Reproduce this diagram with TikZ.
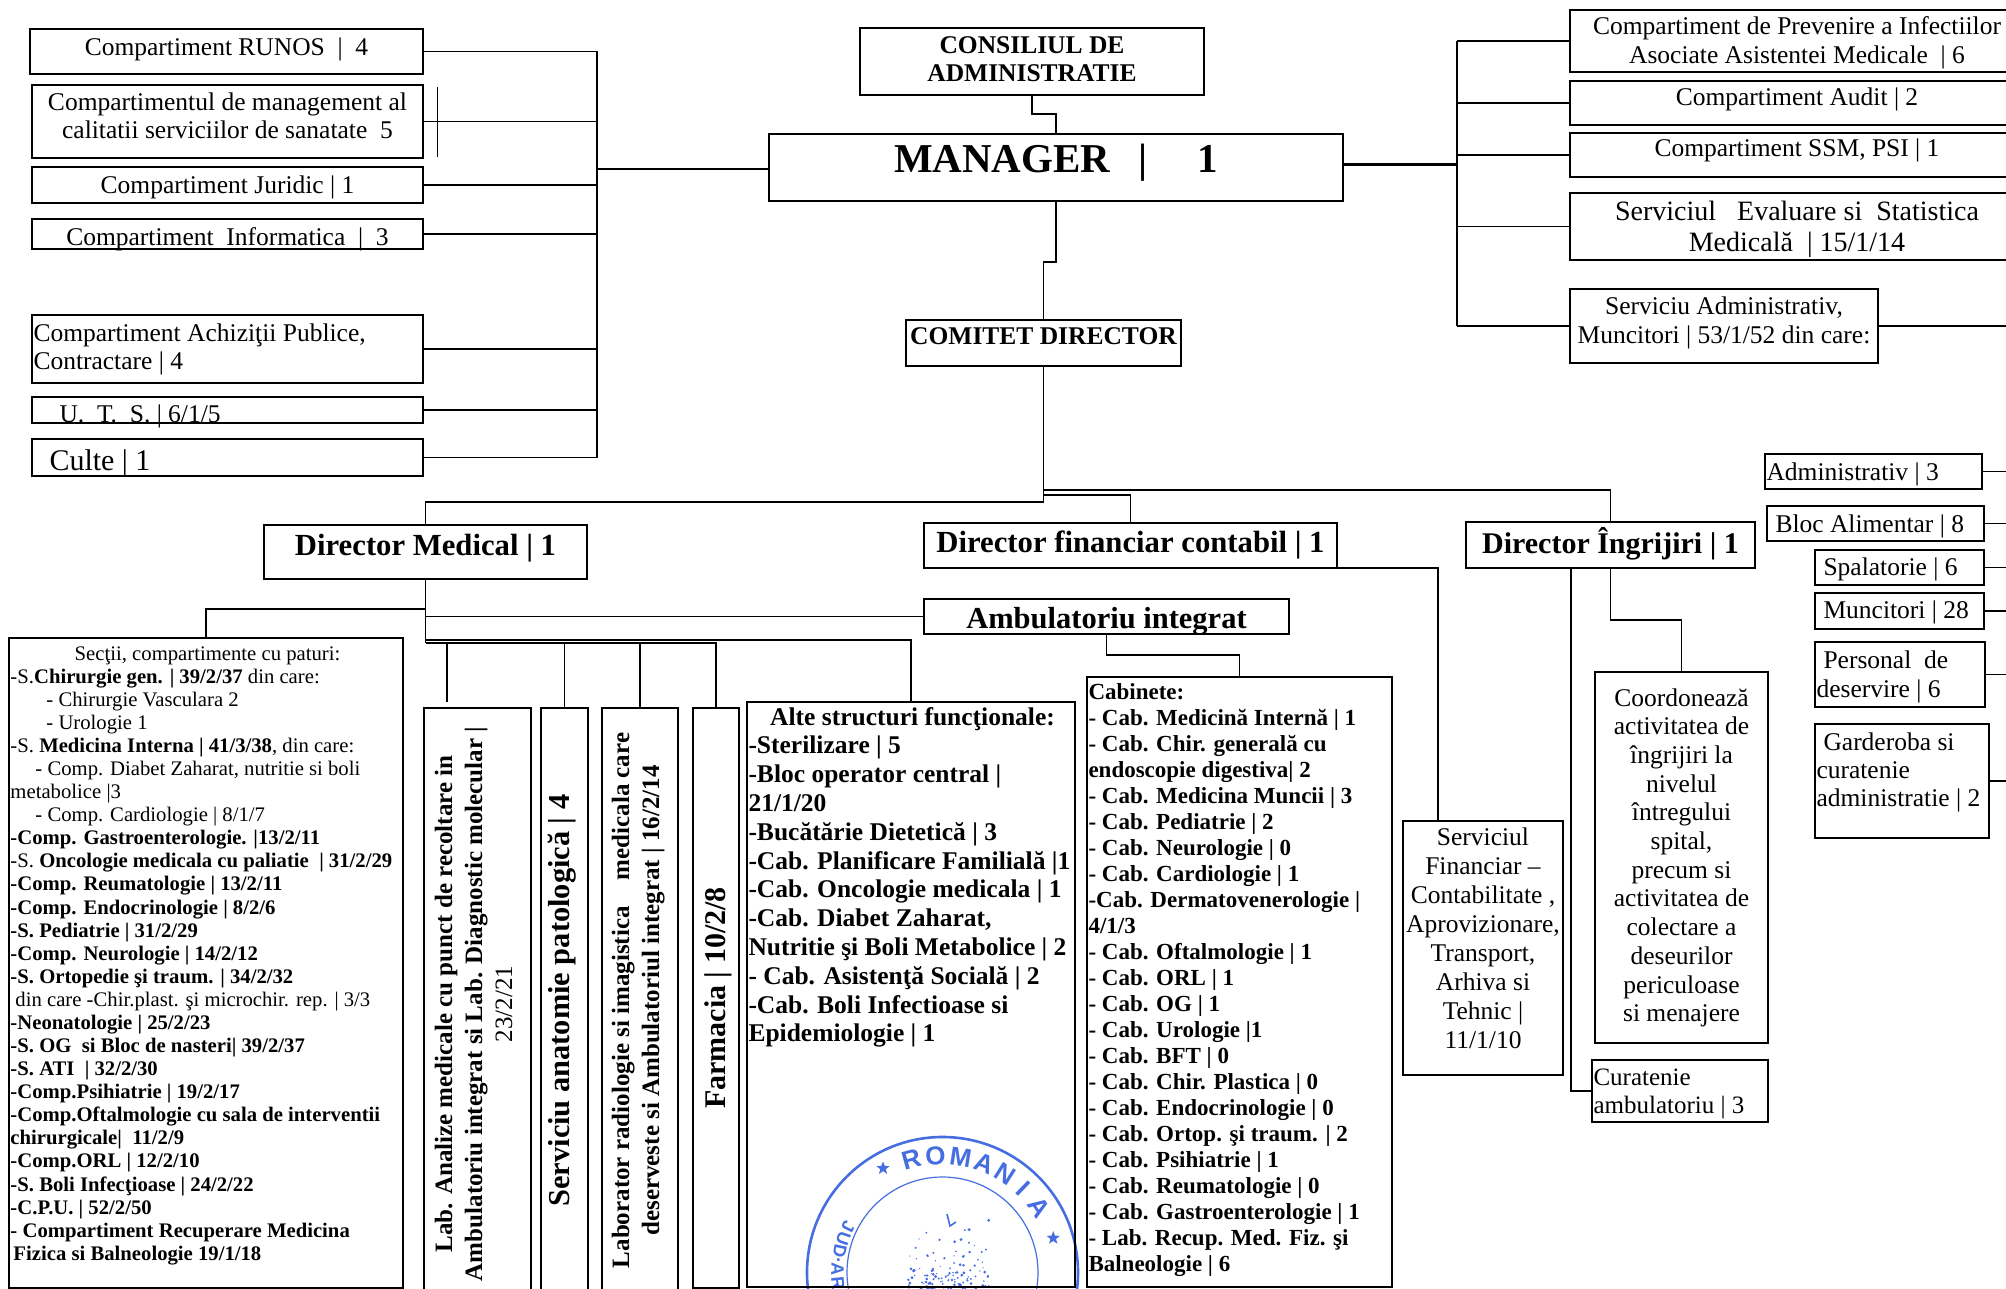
\documentclass[tikz,border=0pt]{standalone}
\usepackage{fontspec}
\setmainfont{Liberation Serif}
\setsansfont{Liberation Sans}
\usetikzlibrary{positioning,calc,shapes.geometric}
\definecolor{stampblue}{RGB}{70,110,225}

% text inside a box of fixed size: width, height, gap above the first line, text
\newcommand{\cbox}[4]{\parbox[c][#2pt][t]{#1pt}{\centering\vspace*{#3pt}\strut #4}}
\newcommand{\lbox}[4]{\parbox[c][#2pt][t]{#1pt}{\raggedright\leftskip=1.5pt\vspace*{#3pt}\strut #4}}

\tikzset{
  box/.style={draw,line width=1.8pt,inner sep=0pt,outer sep=0pt,anchor=north west},
  upbox/.style={draw,line width=1.8pt,inner sep=0pt,outer sep=0pt,rotate=90,anchor=north east},
  reg/.style 2 args={font=\fontsize{#1}{#2}\selectfont},
  bld/.style 2 args={font=\fontsize{#1}{#2}\selectfont\bfseries},
  link/.style={line width=1.8pt},
  letter/.style={font=\fontsize{26}{26}\selectfont\sffamily\bfseries,text=stampblue,inner sep=0pt},
  smallletter/.style={font=\fontsize{18}{18}\selectfont\sffamily\bfseries,text=stampblue,inner sep=0pt},
  stampstar/.style={star,star points=5,star point ratio=2.4,fill=stampblue,inner sep=0pt,minimum size=14pt}
}

\begin{document}
\begin{tikzpicture}[x=1pt,y=-1pt]
  \useasboundingbox (0,0) rectangle (2006,1289);

  % stamp
  \coordinate (S) at (942.5,1272.5);
  \draw[stampblue,line width=2.6pt] (S) circle (135.5);
  \draw[stampblue,line width=1.2pt] (S) circle (95.5);
  \foreach \ch/\ang [count=\i] in {R/105.5,O/93.5,M/81,A/69,N/57.5,I/46,A/34}
    \node[letter,rotate=\ang-90] (stampl\i) at ($(S)+(\ang:117 and -117)$) {\ch};
  \foreach \ch/\ang [count=\i] in {J/154,U/161,D/168,./173,A/178,R/186}
    \node[smallletter,rotate=\ang+90] (stamps\i) at ($(S)+(\ang:105 and -105)$) {\ch};
  \node[stampstar] (stampa) at ($(S)+(119.7:120 and -120)$) {};
  \node[stampstar] (stampb) at ($(S)+(17.3:116 and -116)$) {};
  \pgfmathsetseed{11}
  \foreach \i in {1,...,130}
    \fill[stampblue] ({908+82*rnd},{1289-74*rnd*rnd}) circle ({0.6+1.1*rnd});
  \draw[stampblue,line width=1.6pt] (947,1214) -- (950,1226) -- (956,1222);

  % left column
  \node[box,reg={25.5}{28}] (runos) at (30,29) {\cbox{393}{45}{7}{Compartiment RUNOS~~|~~4}};
  \node[box,reg={25.5}{28}] (mgmt) at (32,85) {\cbox{391}{73}{6}{Compartimentul de management al\\calitatii serviciilor de sanatate~~5}};
  \node[box,reg={25.5}{28}] (jur) at (32,167) {\cbox{391}{36}{7}{Compartiment Juridic | 1}};
  \node[box,reg={25.5}{28}] (info) at (32,219) {\cbox{391}{30}{7}{Compartiment~~Informatica~~|~~3}};
  \node[box,reg={25.5}{28}] (achiz) at (32,315) {\lbox{391}{68}{7}{Compartiment Achiziţii Publice,\\Contractare | 4}};
  \node[box,reg={25.5}{28}] (uts) at (32,397) {\lbox{391}{26}{6}{\hspace*{26pt}U.~~T.~~S. | 6/1/5}};
  \node[box,reg={30}{34}] (culte) at (32,439) {\lbox{391}{37}{8}{\hspace*{16pt}Culte | 1}};

  \coordinate (brL) at (597,169);
  \draw[link] (brL |- runos.east) -- (brL |- culte.east);
  \foreach \n in {runos,mgmt,jur,info,achiz,uts,culte}
    \draw[link] (\n.east) -- (\n.east -| brL);
  \draw[line width=0.9pt] (437,87) -- (437,157);

  % centre
  \node[box,bld={25.5}{28}] (cons) at (860,28) {\cbox{344}{67}{6}{CONSILIUL DE\\ADMINISTRATIE}};
  \node[box,bld={41}{45}] (mgr) at (769,134) {\cbox{574}{67}{7}{MANAGER\hspace{28pt}|\hspace{50pt}1}};
  \node[box,bld={25.5}{28}] (com) at (906,320) {\cbox{275}{46}{5}{COMITET DIRECTOR}};
  \draw[link] (cons.south) -- ++(0,19) -| (mgr.north);
  \draw[link] (mgr.south) -- ++(0,61) -| (com.north);
  \draw[link] (brL) -- (mgr.west |- brL);

  % right column
  \node[box,reg={25.5}{29}] (prev) at (1570,10) {\cbox{454}{62}{4}{Compartiment de Prevenire a Infectiilor\\Asociate Asistentei Medicale~~| 6}};
  \node[box,reg={25.5}{28}] (audit) at (1570,81) {\cbox{454}{44}{5}{Compartiment Audit | 2}};
  \node[box,reg={25.5}{28}] (ssm) at (1570,133) {\cbox{454}{44}{4}{Compartiment SSM, PSI | 1}};
  \node[box,reg={28}{31}] (eval) at (1570,193) {\cbox{454}{67}{6}{Serviciul~~~Evaluare si~~Statistica\\Medicală~~| 15/1/14}};
  \node[box,reg={25.5}{29}] (sadm) at (1570,289) {\cbox{308}{74}{5}{Serviciu Administrativ,\\Muncitori | 53/1/52 din care:}};
  \coordinate (brR) at (1457,165);
  \coordinate (pageR) at (2010,0);
  \draw[link] (brR |- prev.west) -- (brR |- sadm.west);
  \foreach \n in {prev,audit,ssm,eval,sadm}
    \draw[link] (\n.west -| brR) -- (\n.west);
  \draw[line width=3pt] (mgr.east |- brR) -- (brR);
  \draw[link] (sadm.east) -- (sadm.east -| pageR);

  % far right, under the administrative service
  \node[box,reg={25.5}{28}] (admin) at (1765,454) {\lbox{217}{35}{7}{Administrativ | 3}};
  \node[box,reg={25.5}{28}] (bloc) at (1767,506) {\lbox{217}{35}{7}{\hspace*{7pt}Bloc Alimentar | 8}};
  \node[box,reg={25.5}{28}] (spal) at (1815,550) {\lbox{169}{35}{6}{\hspace*{7pt}Spalatorie | 6}};
  \node[box,reg={25.5}{28}] (munc) at (1815,593) {\lbox{169}{36}{6}{\hspace*{7pt}Muncitori | 28}};
  \node[box,reg={25.5}{29}] (pers) at (1815,642) {\lbox{170}{65}{6}{\hspace*{7pt}Personal~~de\\deservire | 6}};
  \node[box,reg={25.5}{28}] (gard) at (1815,724) {\lbox{174}{114}{7}{\hspace*{7pt}Garderoba si\\curatenie\\administratie | 2}};
  \foreach \n in {admin,bloc,spal,munc,pers,gard}
    \draw[link] (\n.east) -- (\n.east -| pageR);

  % directors
  \node[box,bld={30.7}{34}] (dirmed) at (264,525) {\cbox{323}{54}{7}{Director Medical | 1}};
  \node[box,bld={30.7}{34}] (dirfin) at (924,523) {\cbox{413}{45}{6}{Director financiar contabil | 1}};
  \node[box,bld={30}{34}] (diring) at (1466,522) {\cbox{289}{46}{5}{Director Îngrijiri | 1}};
  \node[box,bld={30.5}{34}] (amb) at (924,599) {\cbox{365}{35}{6}{Ambulatoriu integrat}};
  \coordinate (busA) at (com.south |- 0,502);
  \coordinate (busB) at (com.south |- 0,495);
  \coordinate (busC) at (com.south |- 0,490);
  \draw[link] (com.south) -- (busA) -| (dirmed.north);
  \draw[link] (busB) -| (dirfin.north);
  \draw[link] (busC) -| (diring.north);

  % medical director's units
  \node[box,reg={20.7}{23.08}] (sectii) at (9,638) {\lbox{394}{650}{6}{%
    \makebox[\linewidth][c]{Secţii, compartimente cu paturi:}\\
    -S.\textbf{Chirurgie gen. | 39/2/37} din care:\\
    \hspace*{36pt}- Chirurgie Vasculara 2\\
    \hspace*{36pt}- Urologie 1\\
    -S. \textbf{Medicina Interna | 41/3/38}, din care:\\
    \hspace*{25pt}- Comp. Diabet Zaharat, nutritie si boli\\
    metabolice |3\\
    \hspace*{25pt}- Comp. Cardiologie | 8/1/7\\
    \textbf{-Comp. Gastroenterologie. |13/2/11}\\
    -S. \textbf{Oncologie medicala cu paliatie~~| 31/2/29}\\
    \textbf{-Comp. Reumatologie | 13/2/11}\\
    \textbf{-Comp. Endocrinologie | 8/2/6}\\
    \textbf{-S. Pediatrie | 31/2/29}\\
    \textbf{-Comp. Neurologie | 14/2/12}\\
    \textbf{-S. Ortopedie şi traum. | 34/2/32}\\
    \hspace*{5pt}din care -Chir.plast. şi microchir. rep. | 3/3\\
    \textbf{-Neonatologie | 25/2/23}\\
    \textbf{-S. OG~~si Bloc de nasteri| 39/2/37}\\
    \textbf{-S. ATI~~| 32/2/30}\\
    \textbf{-Comp.Psihiatrie | 19/2/17}\\
    \textbf{-Comp.Oftalmologie cu sala de interventii}\\
    \textbf{chirurgicale|~~11/2/9}\\
    \textbf{-Comp.ORL | 12/2/10}\\
    \textbf{-S. Boli Infecţioase | 24/2/22}\\
    \textbf{-C.P.U. | 52/2/50}\\
    \textbf{- Compartiment Recuperare Medicina}\\
    \hspace*{3pt}\textbf{Fizica si Balneologie 19/1/18}}};
  \node[upbox,bld={25}{30}] (labm) at (424,708) {\cbox{592}{107}{7}{Lab. Analize medicale cu punct de recoltare in\\Ambulatoriu integrat si Lab. Diagnostic molecular |\\\mdseries 23/2/21}};
  \node[upbox,bld={30.4}{34}] (anat) at (541,708) {\cbox{585}{47}{5}{Serviciu anatomie patologică | 4}};
  \node[upbox,bld={25}{30}] (labr) at (602,708) {\cbox{585}{76}{6}{Laborator radiologie si imagistica\hspace{26pt}medicala care\\deserveste si Ambulatoriul integrat | 16/2/14}};
  \node[upbox,bld={30}{34}] (farm) at (693,708) {\cbox{580}{46}{9}{Farmacia | 10/2/8}};
  \node[box,bld={25.5}{28.8}] (alte) at (747,702) {\lbox{328}{585}{3}{%
    \makebox[\linewidth][c]{Alte structuri funcţionale:}\\
    -Sterilizare | 5\\
    -Bloc operator central |\\
    21/1/20\\
    -Bucătărie Dietetică | 3\\
    -Cab. Planificare Familială |1\\
    -Cab. Oncologie medicala | 1\\
    -Cab. Diabet Zaharat,\\
    Nutritie şi Boli Metabolice | 2\\
    - Cab. Asistenţă Socială | 2\\
    -Cab. Boli Infectioase si\\
    Epidemiologie | 1}};
  \node[box,bld={23}{26}] (cab) at (1087,677) {\lbox{305}{610}{4}{%
    Cabinete:\\
    - Cab. Medicină Internă | 1\\
    - Cab. Chir. generală cu\\
    endoscopie digestiva| 2\\
    - Cab. Medicina Muncii | 3\\
    - Cab. Pediatrie | 2\\
    - Cab. Neurologie | 0\\
    - Cab. Cardiologie | 1\\
    -Cab. Dermatovenerologie |\\
    4/1/3\\
    - Cab. Oftalmologie | 1\\
    - Cab. ORL | 1\\
    - Cab. OG | 1\\
    - Cab. Urologie |1\\
    - Cab. BFT | 0\\
    - Cab. Chir. Plastica | 0\\
    - Cab. Endocrinologie | 0\\
    - Cab. Ortop. şi traum. | 2\\
    - Cab. Psihiatrie | 1\\
    - Cab. Reumatologie | 0\\
    - Cab. Gastroenterologie | 1\\
    - Lab. Recup. Med. Fiz. şi\\
    Balneologie | 6}};

  \coordinate (busE) at (dirmed.south |- 0,643);
  \coordinate (busF) at (dirmed.south |- 0,640);
  \coordinate (labmtop) at (447,702);
  \draw[link] (dirmed.south) -- (busE);
  \draw[link] (dirmed.south |- 0,609) -| (sectii.north);
  \draw[link] (dirmed.south |- amb.west) -- (amb.west);
  \draw[link] (busF) -| (alte.north);
  \draw[link] (busE) -| (farm.east);
  \draw[link] (labmtop |- busE) -- (labmtop);
  \draw[link] (anat.east |- busE) -- (anat.east);
  \draw[link] (labr.east |- busE) -- (labr.east);
  \draw[link] (amb.south) -- ++(0,21) -| (cab.north);

  % finance and nursing
  \node[box,reg={25.5}{29}] (sfin) at (1403,821) {\cbox{160}{254}{4}{Serviciul\\Financiar --\\Contabilitate ,\\Aprovizionare,\\Transport,\\Arhiva si\\Tehnic |\\11/1/10}};
  \node[box,reg={25.5}{28.7}] (coord) at (1595,672) {\cbox{173}{371}{14}{Coordonează\\activitatea de\\îngrijiri la\\nivelul\\întregului\\spital,\\precum si\\activitatea de\\colectare a\\deseurilor\\periculoase\\si menajere}};
  \node[box,reg={25}{28}] (curat) at (1592,1060) {\lbox{176}{62}{6}{Curatenie\\ambulatoriu | 3}};
  \coordinate (sfintop) at (1438,821);
  \coordinate (ingleft) at (1571,568);
  \draw[link] (dirfin.south east) -| (sfintop);
  \draw[link] (ingleft) |- (curat.west);
  \draw[link] (diring.south) -- ++(0,52) -| (coord.north);
\end{tikzpicture}
\end{document}
